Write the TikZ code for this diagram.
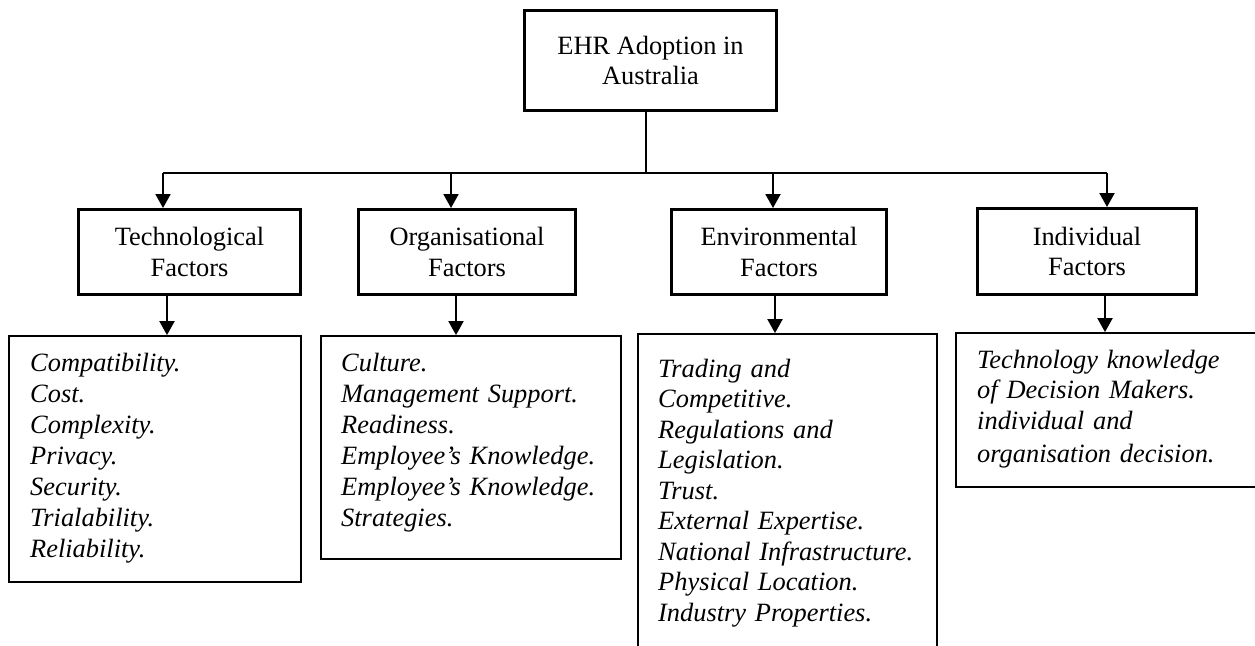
\documentclass[tikz,border=0pt]{standalone}
\usepackage{fontspec}
\setmainfont{Liberation Serif}
\usetikzlibrary{arrows.meta}
\tikzset{
  x=1pt, y=1pt,
  bigbox/.style={draw, line width=3pt, rectangle, inner sep=0pt, align=center,
    font=\fontsize{26.4}{30.5}\selectfont},
  listbox/.style={draw, line width=1.8pt, rectangle, inner sep=0pt},
  listtext/.style={anchor=base west, inner sep=0pt, align=left, text width=280pt,
    font=\fontsize{26.4}{31}\selectfont\itshape},
  conn/.style={line width=2pt},
  arr/.style={line width=2pt, -{Triangle[width=15pt 0 0,length=14pt 0 0]}},
}
\begin{document}
\begin{tikzpicture}
\useasboundingbox (0,0) rectangle (1255,-645);
\clip (0,0) rectangle (1255,-645);
\fill[white] (0,0) rectangle (1255,-645);

% top box
\node[bigbox, minimum width=252pt, minimum height=100pt] (top) at (650.5,-60.5)
  {EHR Adoption in\\Australia};

% factor boxes
\node[bigbox, minimum width=222pt, minimum height=85pt] (tf) at (189.5,-252) {Technological\\Factors};
\node[bigbox, minimum width=217pt, minimum height=85pt] (of) at (467,-252) {Organisational\\Factors};
\node[bigbox, minimum width=215pt, minimum height=85pt] (ef) at (779,-252) {Environmental\\Factors};
\node[bigbox, minimum width=219pt, minimum height=86pt] (if) at (1087,-251.5) {Individual\\Factors};

% list boxes
\node[listbox, minimum width=292pt, minimum height=246pt] (tl) at (155,-459) {};
\node[listbox, minimum width=300pt, minimum height=223pt] (ol) at (471,-447.5) {};
\node[listbox, minimum width=299pt, minimum height=330pt] (el) at (787.5,-499) {};
\node[listbox, minimum width=313pt, minimum height=154pt] (il) at (1112.5,-410) {};

% list texts
\node[listtext] (tlt) at (30,-371) {Compatibility.\\Cost.\\Complexity.\\Privacy.\\Security.\\Trialability.\\Reliability.};
\node[listtext] (olt) at (341,-371) {Culture.\\Management Support.\\Readiness.\\Employee’s Knowledge.\\Employee’s Knowledge.\\Strategies.};
\node[listtext, font=\fontsize{26.4}{30.5}\selectfont\itshape] (elt) at (658,-377) {Trading and\\Competitive.\\Regulations and\\Legislation.\\Trust.\\External Expertise.\\National Infrastructure.\\Physical Location.\\Industry Properties.};
\node[listtext, font=\fontsize{26.4}{30.6}\selectfont\itshape] (ilt) at (977,-368) {Technology knowledge\\of Decision Makers.\\individual and\\[3pt]organisation decision.};

% connector coordinates
\coordinate (st) at (646,-173);
\coordinate (ta) at (163,-173);
\coordinate (oa) at (451,-173);
\coordinate (ea) at (773,-173);
\coordinate (ia) at (1107,-173);
\coordinate (td) at (167,-300);
\coordinate (od) at (456,-300);
\coordinate (ed) at (775,-300);
\coordinate (id) at (1105,-300);

% connectors
\draw[conn] (st |- top.south) -- (st);
\draw[conn] (ta) -- (ia);
\draw[arr] (ta) -- (ta |- tf.north);
\draw[arr] (oa) -- (oa |- of.north);
\draw[arr] (ea) -- (ea |- ef.north);
\draw[arr] (ia) -- (ia |- if.north);
\draw[arr] (td |- tf.south) -- (td |- tl.north);
\draw[arr] (od |- of.south) -- (od |- ol.north);
\draw[arr] (ed |- ef.south) -- (ed |- el.north);
\draw[arr] (id |- if.south) -- (id |- il.north);
\end{tikzpicture}
\end{document}
